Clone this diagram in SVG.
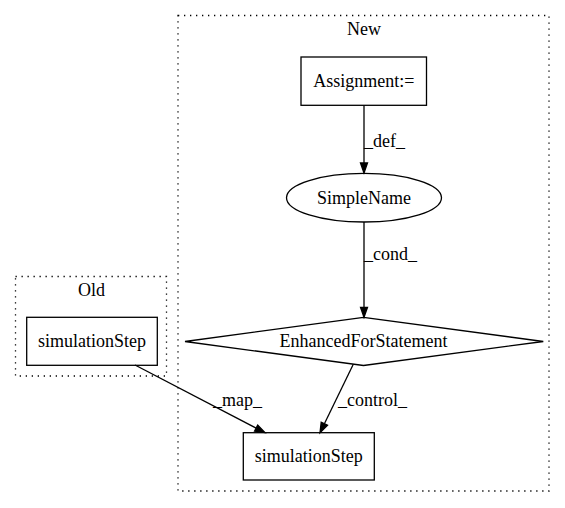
<svg xmlns="http://www.w3.org/2000/svg" width="565" height="508" viewBox="0 0 565 508">
<style>
text{font-family:"Liberation Serif","Times New Roman","DejaVu Serif",serif;font-size:18px;fill:#000}
.c{text-anchor:middle}
.cl{fill:none;stroke:#000;stroke-width:1.3;stroke-dasharray:1.3,4.7}
.n{fill:none;stroke:#000;stroke-width:1.3}
.e{fill:none;stroke:#000;stroke-width:1.3}
.ah{fill:#000;stroke:#000;stroke-width:1.3}
</style>
<rect width="565" height="508" fill="#fff"/>
<g id="cluster_old">
<rect class="cl" x="15.5" y="276.5" width="151" height="99.5"/>
<text class="c" x="91.5" y="296">Old</text>
</g>
<g id="cluster_new">
<rect class="cl" x="178" y="15.5" width="371" height="475.5"/>
<text class="c" x="364" y="35">New</text>
</g>
<g id="assignment">
<rect class="n" x="301" y="57" width="125.5" height="48.3"/>
<text class="c" x="363.8" y="87">Assignment:=</text>
</g>
<g id="simplename">
<ellipse class="n" cx="364" cy="197.7" rx="77.5" ry="24.3"/>
<text class="c" x="364" y="203.5">SimpleName</text>
</g>
<g id="enhancedfor">
<polygon class="n" points="363.5,317.3 543.3,341.5 363.5,365.5 185,341.5"/>
<text class="c" x="363.5" y="347">EnhancedForStatement</text>
</g>
<g id="old_simulationstep">
<rect class="n" x="26.7" y="317.3" width="130.6" height="48"/>
<text class="c" x="92" y="346.5">simulationStep</text>
</g>
<g id="new_simulationstep">
<rect class="n" x="243.3" y="432.7" width="131" height="47.3"/>
<text class="c" x="308.8" y="462">simulationStep</text>
</g>
<g id="connectors">
<path class="e" d="M364,105.3 L364,163"/>
<polygon class="ah" points="360.5,163 364,173 367.5,163"/>
<text x="364" y="146.5">_def_</text>
<path class="e" d="M364,222 L364,307.3"/>
<polygon class="ah" points="360.5,307.3 364,317.3 367.5,307.3"/>
<text x="364" y="260">_cond_</text>
<path class="e" d="M353.3,364.3 L324.4,423.7"/>
<polygon class="ah" points="327.5,425.2 320,432.7 321.2,422.2"/>
<text x="338" y="406">_control_</text>
<path class="e" d="M135,365 L256.1,428.1"/>
<polygon class="ah" points="254.5,431.2 265,432.7 257.7,425"/>
<text x="213" y="406">_map_</text>
</g>
</svg>
